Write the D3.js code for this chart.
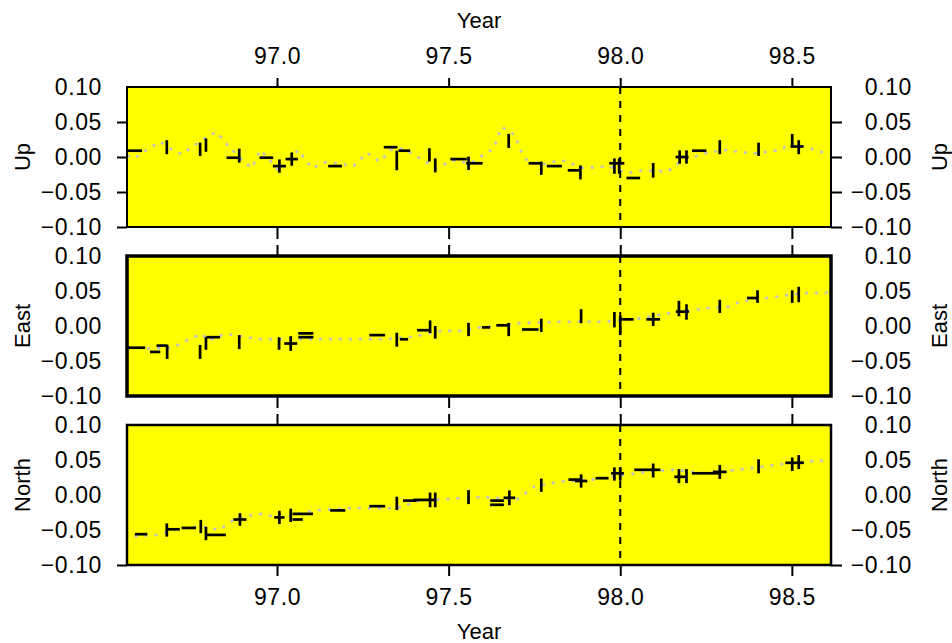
<!DOCTYPE html>
<html>
<head>
<meta charset="utf-8">
<script src="https://cdn.jsdelivr.net/npm/d3@7"></script>
<style>
  html, body { margin: 0; padding: 0; background: #ffffff; }
  svg { display: block; }
  text { font-family: "Liberation Sans", Arial, Helvetica, sans-serif; fill: #000; }
</style>
</head>
<body>
<svg id="chart" width="952" height="643"></svg>
<script>
// ---------------- DATA ----------------
const xTickYears = [97.0, 97.5, 98.0, 98.5];
const yTickValues = [0.10, 0.05, 0.00, -0.05, -0.10];
const panelNames = ["Up", "East", "North"];
const referenceYear = 98.0;

// marks: [year, value, half-width (years), half-height (value units)]
const upMarks = [
  [96.585, 0.009, 0.022, 0], [96.679, 0.014, 0, 0.010], [96.776, 0.011, 0, 0.0095],
  [96.793, 0.017, 0, 0.0095], [96.870, -0.001, 0.017, 0], [96.890, 0.002, 0, 0.010],
  [96.969, -0.001, 0.020, 0], [97.007, -0.013, 0.019, 0.0095], [97.043, -0.003, 0.018, 0.0095],
  [97.169, -0.013, 0.020, 0], [97.331, 0.014, 0.020, 0], [97.371, 0.009, 0.017, 0],
  [97.349, -0.005, 0, 0.014], [97.444, 0.003, 0, 0.0095], [97.461, -0.012, 0, 0.010],
  [97.529, -0.003, 0.024, 0], [97.558, -0.009, 0, 0.0095], [97.575, -0.009, 0.024, 0],
  [97.675, 0.023, 0, 0.010], [97.750, -0.009, 0.017, 0], [97.770, -0.016, 0, 0.0095],
  [97.808, -0.013, 0.022, 0], [97.865, -0.019, 0.018, 0], [97.884, -0.022, 0, 0.010],
  [97.983, -0.013, 0, 0.011], [97.997, -0.013, 0, 0.011], [97.990, -0.009, 0.022, 0],
  [98.038, -0.030, 0.020, 0], [98.096, -0.019, 0, 0.0105], [98.173, 0.000, 0, 0.0095],
  [98.193, 0.000, 0, 0.0095], [98.180, 0.000, 0.019, 0], [98.230, 0.009, 0.021, 0],
  [98.290, 0.014, 0, 0.010], [98.403, 0.011, 0, 0.0095], [98.501, 0.024, 0, 0.009],
  [98.520, 0.014, 0, 0.010], [98.515, 0.015, 0.019, 0]
];
const eastMarks = [
  [96.591, -0.031, 0.025, 0], [96.645, -0.037, 0.015, 0], [96.665, -0.028, 0.016, 0],
  [96.680, -0.037, 0, 0.010], [96.776, -0.037, 0, 0.010], [96.793, -0.025, 0, 0.009],
  [96.814, -0.016, 0.020, 0], [96.890, -0.023, 0, 0.010], [97.006, -0.025, 0, 0.009],
  [97.040, -0.025, 0.019, 0.0105], [97.084, -0.0105, 0.022, 0], [97.084, -0.016, 0.022, 0],
  [97.292, -0.013, 0.023, 0], [97.349, -0.0195, 0, 0.010], [97.370, -0.019, 0.012, 0],
  [97.427, -0.006, 0.019, 0], [97.446, -0.001, 0, 0.009], [97.461, -0.009, 0, 0.009],
  [97.558, -0.005, 0, 0.0095], [97.609, -0.002, 0.012, 0], [97.658, 0.001, 0.019, 0],
  [97.675, -0.005, 0, 0.0095], [97.738, -0.005, 0.024, 0], [97.770, 0.001, 0, 0.0095],
  [97.886, 0.014, 0, 0.010], [97.983, 0.009, 0, 0.011], [98.000, 0.001, 0, 0.014],
  [98.020, 0.0095, 0.019, 0], [98.096, 0.0095, 0.020, 0.0095], [98.171, 0.025, 0, 0.011],
  [98.193, 0.020, 0, 0.011], [98.181, 0.0205, 0.019, 0], [98.290, 0.028, 0, 0.0095],
  [98.385, 0.040, 0.0155, 0], [98.400, 0.042, 0, 0.009], [98.501, 0.042, 0, 0.009],
  [98.520, 0.045, 0, 0.011]
];
const northMarks = [
  [96.604, -0.056, 0.018, 0], [96.679, -0.050, 0, 0.0095], [96.698, -0.049, 0.019, 0],
  [96.743, -0.047, 0.021, 0], [96.778, -0.045, 0, 0.0095], [96.793, -0.055, 0, 0.0095],
  [96.822, -0.057, 0.029, 0], [96.892, -0.035, 0.019, 0.009], [97.007, -0.032, 0.015, 0.0095],
  [97.040, -0.029, 0, 0.0095], [97.075, -0.027, 0.030, 0], [97.060, -0.035, 0.015, 0],
  [97.177, -0.022, 0.022, 0], [97.292, -0.016, 0.023, 0], [97.349, -0.012, 0, 0.0095],
  [97.387, -0.008, 0.020, 0], [97.429, -0.007, 0.032, 0], [97.446, -0.007, 0, 0.0105],
  [97.461, -0.007, 0, 0.0105], [97.558, -0.003, 0, 0.010], [97.641, -0.008, 0.020, 0],
  [97.641, -0.014, 0.020, 0], [97.677, -0.004, 0.017, 0.0105], [97.770, 0.014, 0, 0.0095],
  [97.866, 0.022, 0.017, 0], [97.886, 0.020, 0.018, 0.0095], [97.947, 0.024, 0.019, 0],
  [97.983, 0.030, 0, 0.0095], [98.000, 0.030, 0, 0.0095], [97.992, 0.031, 0.0185, 0],
  [98.079, 0.036, 0.038, 0], [98.096, 0.035, 0, 0.010], [98.171, 0.027, 0, 0.010],
  [98.193, 0.027, 0, 0.010], [98.176, 0.026, 0.0185, 0], [98.248, 0.031, 0.039, 0],
  [98.290, 0.033, 0.020, 0.010], [98.403, 0.041, 0, 0.010], [98.501, 0.044, 0, 0.0095],
  [98.520, 0.047, 0, 0.010], [98.508, 0.046, 0.027, 0]
];

// model curves (light grey dotted): [year, value]
const upModel = [
  [96.563, 0.002], [96.585, -0.002], [96.62, 0.010], [96.659, 0.022], [96.69, 0.012],
  [96.722, 0.004], [96.77, 0.020], [96.80, 0.030], [96.824, 0.036], [96.85, 0.020],
  [96.90, -0.005], [96.927, -0.016], [96.951, 0.010], [96.98, -0.005], [97.006, -0.021],
  [97.03, -0.005], [97.062, 0.010], [97.101, -0.016], [97.145, -0.007], [97.223, -0.013],
  [97.262, 0.006], [97.30, -0.007], [97.33, 0.010], [97.37, 0.012], [97.41, 0.000],
  [97.466, -0.016], [97.51, -0.005], [97.563, -0.009], [97.631, 0.012], [97.655, 0.043],
  [97.694, 0.031], [97.709, 0.010], [97.733, -0.009], [97.78, -0.010], [97.826, -0.004],
  [97.893, -0.016], [97.966, -0.013], [98.02, -0.023], [98.068, -0.019], [98.137, -0.021],
  [98.175, -0.007], [98.243, 0.005], [98.302, 0.010], [98.389, 0.005], [98.467, 0.010],
  [98.496, 0.020], [98.535, 0.015], [98.613, 0.003]
];
const eastModel = [
  [96.563, -0.031], [96.62, -0.032], [96.69, -0.032], [96.74, -0.020], [96.78, -0.011],
  [96.80, -0.021], [96.85, -0.011], [96.95, -0.019], [97.06, -0.019], [97.13, -0.019],
  [97.19, -0.019], [97.31, -0.019], [97.40, -0.015], [97.48, -0.007], [97.54, -0.007],
  [97.59, -0.002], [97.70, 0.004], [97.81, 0.006], [97.95, 0.006], [98.06, 0.011],
  [98.14, 0.018], [98.244, 0.025], [98.32, 0.028], [98.35, 0.035], [98.43, 0.040],
  [98.53, 0.047], [98.613, 0.048]
];
const northModel = [
  [96.585, -0.059], [96.653, -0.057], [96.716, -0.048], [96.78, -0.045], [96.832, -0.050],
  [96.852, -0.043], [96.88, -0.033], [96.95, -0.027], [97.01, -0.032], [97.11, -0.022],
  [97.21, -0.019], [97.35, -0.019], [97.42, -0.007], [97.49, -0.006], [97.60, -0.003],
  [97.70, -0.006], [97.75, 0.012], [97.82, 0.019], [97.92, 0.022], [97.97, 0.026],
  [98.08, 0.033], [98.15, 0.036], [98.25, 0.031], [98.34, 0.036], [98.38, 0.038],
  [98.45, 0.043], [98.55, 0.048], [98.613, 0.050]
];

// which y ticks have tick marks drawn (left / right) per panel
const leftTickMarks = [[0.05, 0.00, -0.05, -0.10], [], [-0.10]];
const rightTickMarks = [[0.05, 0.00, -0.05, -0.10], [], [-0.10]];

// ---------------- LAYOUT ----------------
const svg = d3.select("#chart");
const plotLeft = 127, plotRight = 831;
const panelTops = [87, 256, 425];
const panelHeight = 140;
const frameWidths = [2, 3.5, 2.5];
const fontSize = 23;

const x = d3.scaleLinear().domain([96.563, 98.614]).range([plotLeft, plotRight]);

const panels = [
  { name: panelNames[0], marks: upMarks, model: upModel },
  { name: panelNames[1], marks: eastMarks, model: eastModel },
  { name: panelNames[2], marks: northMarks, model: northModel }
];

const defs = svg.append("defs");

panels.forEach((p, i) => {
  const top = panelTops[i];
  const y = d3.scaleLinear().domain([-0.1, 0.1]).range([top + panelHeight, top]);
  const g = svg.append("g");

  defs.append("clipPath").attr("id", "clip" + i)
    .append("rect").attr("x", plotLeft).attr("y", top)
    .attr("width", plotRight - plotLeft).attr("height", panelHeight);

  g.append("rect")
    .attr("x", plotLeft).attr("y", top)
    .attr("width", plotRight - plotLeft).attr("height", panelHeight)
    .attr("fill", "#ffff00");

  const inner = g.append("g").attr("clip-path", "url(#clip" + i + ")");

  // grey dotted model line
  inner.append("path")
    .datum(p.model)
    .attr("d", d3.line().x(d => x(d[0])).y(d => y(d[1])))
    .attr("fill", "none")
    .attr("stroke", "#c2c2c2")
    .attr("stroke-width", 2.6)
    .attr("stroke-dasharray", "3,7");

  // reference year dashed line
  inner.append("line")
    .attr("x1", x(referenceYear)).attr("x2", x(referenceYear))
    .attr("y1", top).attr("y2", top + panelHeight)
    .attr("stroke", "#000").attr("stroke-width", 2)
    .attr("stroke-dasharray", "7,7");

  // horizontal segments
  inner.selectAll("line.h").data(p.marks.filter(d => d[2] > 0)).enter()
    .append("line").attr("class", "h")
    .attr("x1", d => x(d[0] - d[2])).attr("x2", d => x(d[0] + d[2]))
    .attr("y1", d => y(d[1])).attr("y2", d => y(d[1]))
    .attr("stroke", "#000").attr("stroke-width", 2.7);

  // vertical segments
  inner.selectAll("line.v").data(p.marks.filter(d => d[3] > 0)).enter()
    .append("line").attr("class", "v")
    .attr("x1", d => x(d[0])).attr("x2", d => x(d[0]))
    .attr("y1", d => y(d[1] - d[3])).attr("y2", d => y(d[1] + d[3]))
    .attr("stroke", "#000").attr("stroke-width", 2.7);

  // frame
  g.append("rect")
    .attr("x", plotLeft).attr("y", top)
    .attr("width", plotRight - plotLeft).attr("height", panelHeight)
    .attr("fill", "none").attr("stroke", "#000")
    .attr("stroke-width", frameWidths[i]);

  // left labels
  const leftLabels = svg.append("g").attr("transform", `translate(${plotLeft},0)`)
    .call(d3.axisLeft(y).tickValues(yTickValues).tickSize(0).tickPadding(25)
      .tickFormat(d3.format(".2f")));
  leftLabels.select(".domain").remove();
  leftLabels.selectAll("text").style("font-size", fontSize + "px")
    .style("font-family", "'Liberation Sans', Arial, sans-serif")
    .attr("letter-spacing", "0.6");

  // left tick marks
  const lt = svg.append("g").attr("transform", `translate(${plotLeft},0)`)
    .call(d3.axisLeft(y).tickValues(leftTickMarks[i]).tickSize(10).tickFormat(""));
  lt.select(".domain").remove();
  lt.selectAll("line").attr("stroke", "#000").attr("stroke-width", 2);

  // right labels
  const rightLabels = svg.append("g").attr("transform", `translate(${plotRight},0)`)
    .call(d3.axisRight(y).tickValues(yTickValues).tickSize(0).tickPadding(81)
      .tickFormat(d3.format(".2f")));
  rightLabels.select(".domain").remove();
  rightLabels.selectAll("text").style("font-size", fontSize + "px")
    .style("font-family", "'Liberation Sans', Arial, sans-serif")
    .attr("text-anchor", "end").attr("letter-spacing", "0.6");

  const rt = svg.append("g").attr("transform", `translate(${plotRight},0)`)
    .call(d3.axisRight(y).tickValues(rightTickMarks[i]).tickSize(11).tickFormat(""));
  rt.select(".domain").remove();
  rt.selectAll("line").attr("stroke", "#000").attr("stroke-width", 2);

  // panel name labels (rotated)
  const cy = i === 2 ? top + panelHeight / 2 - 10 : top + panelHeight / 2;
  svg.append("text")
    .attr("transform", `translate(22,${cy}) rotate(-90)`)
    .attr("text-anchor", "middle").attr("dy", "0.35em")
    .style("font-size", "22px")
    .text(p.name);
  svg.append("text")
    .attr("transform", `translate(939,${cy}) rotate(-90)`)
    .attr("text-anchor", "middle").attr("dy", "0.35em")
    .style("font-size", "22px")
    .text(p.name);

  // x ticks above and below each panel
  const above = svg.append("g").attr("transform", `translate(0,${top})`)
    .call(d3.axisTop(x).tickValues(xTickYears).tickSize(i === 0 ? 9 : 11).tickFormat(""));
  above.select(".domain").remove();
  above.selectAll("line").attr("stroke", "#000").attr("stroke-width", 2);

  const below = svg.append("g").attr("transform", `translate(0,${top + panelHeight})`)
    .call(d3.axisBottom(x).tickValues(xTickYears).tickSize(i === 2 ? 11 : 12).tickFormat(""));
  below.select(".domain").remove();
  below.selectAll("line").attr("stroke", "#000").attr("stroke-width", 2);
});

// top axis labels
const topLab = svg.append("g").attr("transform", `translate(0,${panelTops[0]})`)
  .call(d3.axisTop(x).tickValues(xTickYears).tickSize(0).tickPadding(23)
    .tickFormat(d3.format(".1f")));
topLab.select(".domain").remove();
topLab.selectAll("text").style("font-size", fontSize + "px")
  .style("font-family", "'Liberation Sans', Arial, sans-serif").attr("letter-spacing", "0.6");

// bottom axis labels
const botLab = svg.append("g").attr("transform", `translate(0,${panelTops[2] + panelHeight})`)
  .call(d3.axisBottom(x).tickValues(xTickYears).tickSize(0).tickPadding(24)
    .tickFormat(d3.format(".1f")));
botLab.select(".domain").remove();
botLab.selectAll("text").style("font-size", fontSize + "px")
  .style("font-family", "'Liberation Sans', Arial, sans-serif").attr("letter-spacing", "0.6");

// axis titles
svg.append("text").attr("x", 479).attr("y", 20).attr("dy", "0.35em")
  .attr("text-anchor", "middle").style("font-size", "22px").text("Year");
svg.append("text").attr("x", 479).attr("y", 631).attr("dy", "0.35em")
  .attr("text-anchor", "middle").style("font-size", "22px").text("Year");
</script>
</body>
</html>
